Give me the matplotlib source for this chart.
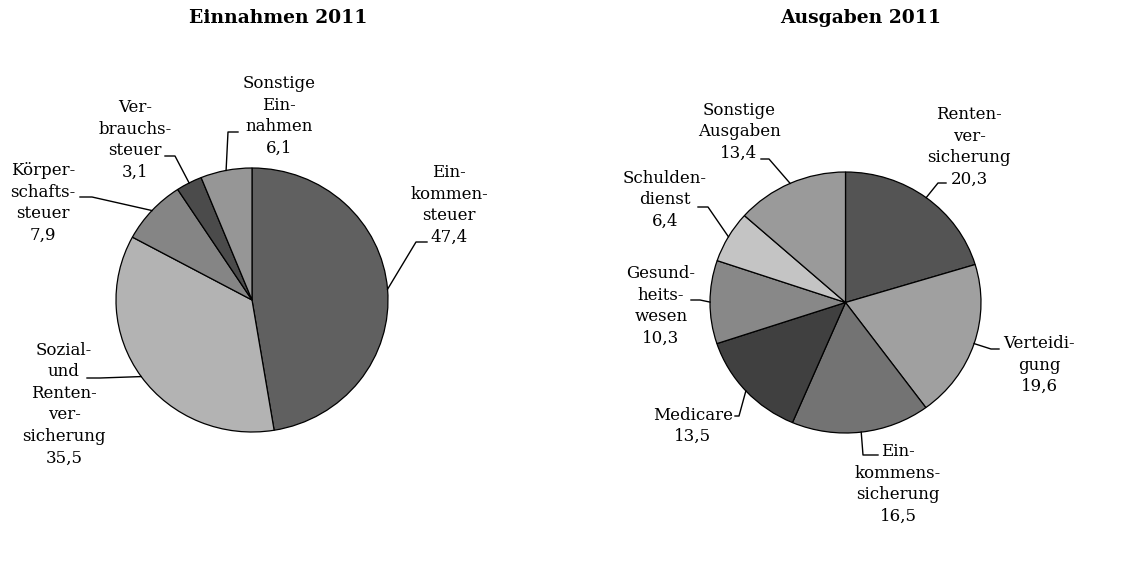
import numpy as np
import matplotlib
matplotlib.use("Agg")
import matplotlib.pyplot as plt
from matplotlib.lines import Line2D
from matplotlib.transforms import IdentityTransform

W, H = 1133, 584

# Daten
ein_labels = ["Ein-\nkommen-\nsteuer\n47,4", "Sozial-\nund\nRenten-\nver-\nsicherung\n35,5",
              "Körper-\nschafts-\nsteuer\n7,9", "Ver-\nbrauchs-\nsteuer\n3,1",
              "Sonstige\nEin-\nnahmen\n6,1"]
ein_values = [47.4, 35.5, 7.9, 3.1, 6.1]
ein_colors = ["#606060", "#b3b3b3", "#858585", "#4b4b4b", "#969696"]

aus_labels = ["Renten-\nver-\nsicherung\n20,3", "Verteidi-\ngung\n19,6",
              "Ein-\nkommens-\nsicherung\n16,5", "Medicare\n13,5",
              "Gesund-\nheits-\nwesen\n10,3", "Schulden-\ndienst\n6,4",
              "Sonstige\nAusgaben\n13,4"]
aus_values = [20.3, 19.6, 16.5, 13.5, 10.3, 6.4, 13.4]
aus_colors = ["#545454", "#a0a0a0", "#737373", "#404040", "#888888", "#c4c4c4", "#9a9a9a"]

# Layout (Pixel, von oben gemessen): Textmitte, Knick, Ende der Führungslinie
ein_layout = [((449, 205), (416, 242), (427, 242)),
              ((64, 404), (100, 378), (87, 378)),
              ((43, 203), (92, 197), (80, 197)),
              ((135, 140), (175, 156), (165, 156)),
              ((279, 116), (228, 132), (238, 132))]
aus_layout = [((969, 147), (938, 183), (946, 183)),
              ((1039, 365), (991, 349), (999, 349)),
              ((898, 484), (863, 455), (878, 455)),
              ((693, 426), (739, 416), (735, 416)),
              ((661, 306), (700, 300), (691, 300)),
              ((665, 200), (708, 207), (698, 207)),
              ((739, 132), (769, 159), (761, 159))]

plt.rcParams['font.family'] = ['DejaVu Serif']

fig = plt.figure(figsize=(W / 100, H / 100), dpi=100)


def draw_pie(bbox, values, colors, labels, layout, title, title_x):
    x0, y0, x1, y1 = bbox
    ax = fig.add_axes([x0 / W, 1 - y1 / H, (x1 - x0) / W, (y1 - y0) / H])
    wedges, _ = ax.pie(values, colors=colors, startangle=90, counterclock=False,
                       wedgeprops=dict(edgecolor="black", linewidth=0.9))
    ax.set_aspect("auto")
    ax.set_xlim(-1.0, 1.0)
    ax.set_ylim(-1.0, 1.0)
    ax.axis("off")
    for w, lab, (txt, elbow, end) in zip(wedges, labels, layout):
        mid = np.deg2rad((w.theta1 + w.theta2) / 2)
        sx, sy = ax.transData.transform((np.cos(mid), np.sin(mid)))
        xs = [sx, elbow[0], end[0]]
        ys = [sy, H - elbow[1], H - end[1]]
        fig.add_artist(Line2D(xs, ys, color="black", linewidth=1.0,
                              transform=IdentityTransform()))
        fig.text(txt[0] / W, 1 - txt[1] / H, lab, ha="center", va="center",
                 fontsize=12, linespacing=1.35)
    fig.text(title_x / W, 1 - 18 / H, title, ha="center", va="center",
             fontsize=13.5, fontweight="bold")


draw_pie((116, 168, 388, 432), ein_values, ein_colors, ein_labels, ein_layout,
         "Einnahmen 2011", 278)
draw_pie((710, 172, 981, 433), aus_values, aus_colors, aus_labels, aus_layout,
         "Ausgaben 2011", 861)

fig.savefig("out.png", dpi=100)
